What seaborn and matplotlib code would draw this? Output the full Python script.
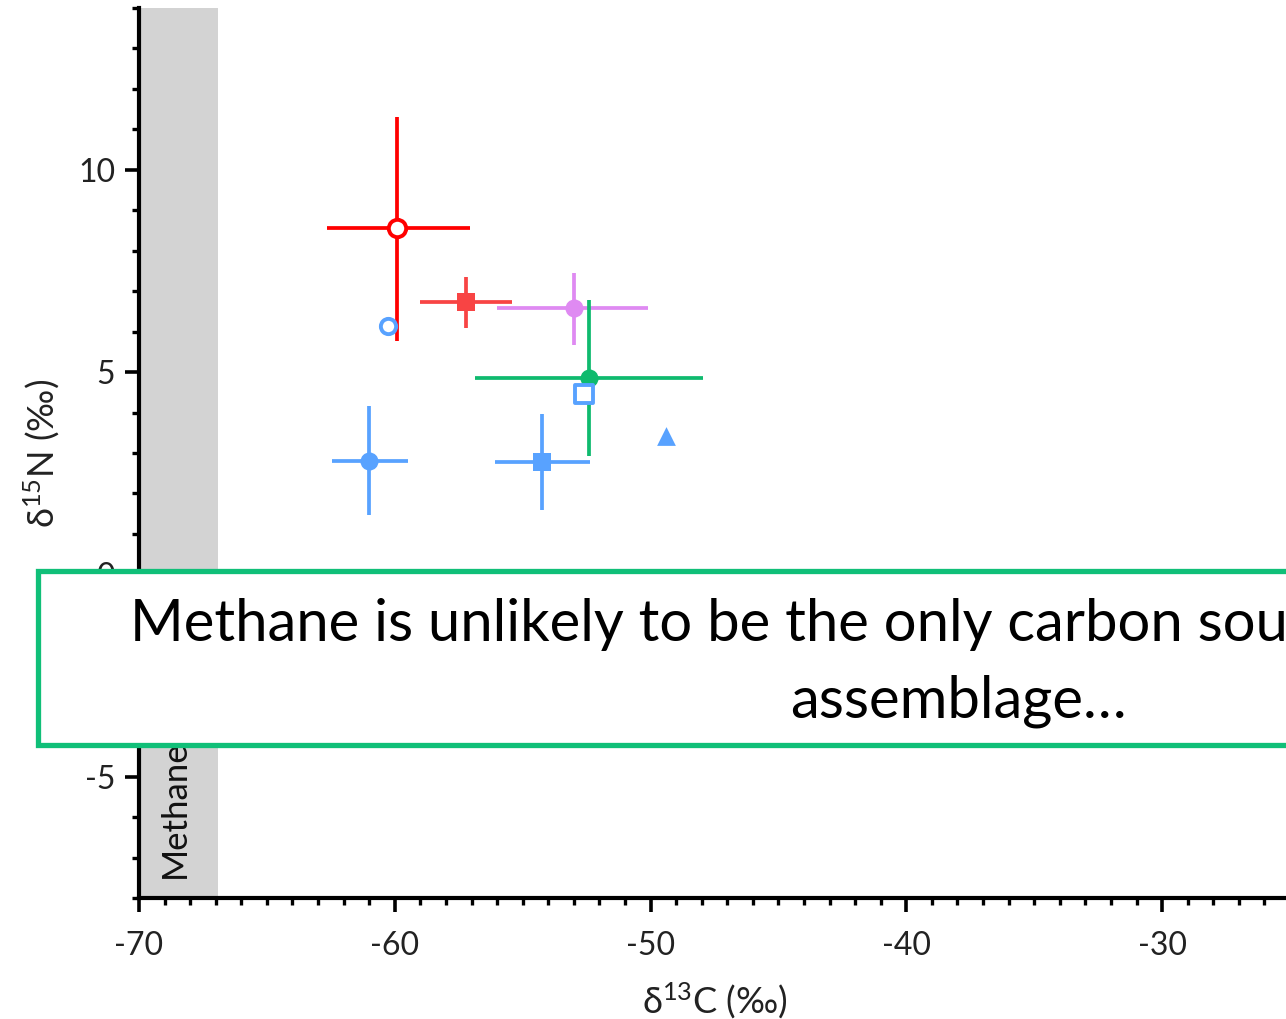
import matplotlib
matplotlib.use('Agg')
import matplotlib.pyplot as plt
import seaborn as sns
import numpy as np
from matplotlib.patches import Rectangle
from matplotlib.ticker import MultipleLocator

sns.set_style('ticks')
plt.rcParams['font.family'] = ['Lato', 'DejaVu Sans']
plt.rcParams['mathtext.fontset'] = 'custom'
plt.rcParams['mathtext.rm'] = 'Lato'
plt.rcParams['mathtext.it'] = 'Lato:italic'
plt.rcParams['axes.unicode_minus'] = False

# ---- data ----
x_vals = [-59.9, -57.2, -53.0, -52.4, -60.25, -52.6, -49.4, -61.0, -54.25]
y_vals = [8.55, 6.74, 6.58, 4.86, 6.15, 4.47, 3.42, 2.80, 2.77]
x_low = [-62.65, -59.0, -56.0, -56.85, np.nan, np.nan, np.nan, -62.45, -56.1]
x_high = [-57.05, -55.4, -50.1, -47.95, np.nan, np.nan, np.nan, -59.5, -52.35]
y_low = [5.78, 6.10, 5.67, 2.93, np.nan, np.nan, np.nan, 1.46, 1.58]
y_high = [11.30, 7.36, 7.46, 6.77, np.nan, np.nan, np.nan, 4.16, 3.96]
colors = ['#ff0000', '#f84444', '#df8af2', '#0fba6e', '#58a2ff', '#58a2ff',
          '#58a2ff', '#58a2ff', '#58a2ff']
markers = ['o', 's', 'o', 'o', 'o', 's', '^', 'o', 's']
filled = [False, True, True, True, False, False, True, True, True]
msizes = [12.5, 13.5, 13, 13, 11, 12.5, 13.5, 13, 13.5]

band_x = [-70, -66.9]
band_label = 'Methane'
x_ticks = [-70, -60, -50, -40, -30]
y_ticks = [-5, 0, 5, 10]
xlabel = 'δ$\\mathregular{^{13}}$C (‰)'
ylabel = 'δ$\\mathregular{^{15}}$N (‰)'
note_line1 = 'Methane is unlikely to be the only carbon source'
note_line2 = 'assemblage…'

W, H = 1286, 1019
fig = plt.figure(figsize=(W / 100, H / 100), dpi=100)
ax = fig.add_axes([139 / W, 1 - 898 / H, (1290 - 139) / W, (898 - 8) / H])

ax.axvspan(band_x[0], band_x[1], color='#d3d3d3', lw=0, zorder=0)
ax.text(band_x[0] + (band_x[1] - band_x[0]) * 0.45, -7.5, band_label,
        rotation=90, ha='center', va='bottom', fontsize=25, color='#111111', zorder=1)

for i in range(len(x_vals)):
    if not np.isnan(x_low[i]):
        ax.errorbar([x_vals[i]], [y_vals[i]],
                    xerr=[[x_vals[i] - x_low[i]], [x_high[i] - x_vals[i]]],
                    yerr=[[y_vals[i] - y_low[i]], [y_high[i] - y_vals[i]]],
                    fmt='none', ecolor=colors[i], elinewidth=2.7, capsize=0,
                    zorder=2 + i * 0.1)
    face = colors[i] if filled[i] else 'white'
    sns.scatterplot(x=[x_vals[i]], y=[y_vals[i]], marker=markers[i],
                    s=msizes[i] ** 2, color=face, edgecolor=colors[i],
                    linewidth=0 if filled[i] else 2.8, ax=ax, zorder=3 + i * 0.1,
                    legend=False)

ax.set_xlim(-70, -25)
ax.set_ylim(-8, 14)
ax.set_xticks(x_ticks)
ax.set_yticks(y_ticks)
ax.xaxis.set_minor_locator(MultipleLocator(1))
ax.yaxis.set_minor_locator(MultipleLocator(1))
ax.tick_params(which='major', direction='out', length=10, width=2.6, labelsize=23,
               color='black', labelcolor='#222222')
ax.tick_params(axis='x', which='major', pad=14)
ax.tick_params(axis='y', which='major', pad=7)
ax.tick_params(which='minor', direction='out', length=5, width=2.4, color='black')
for s in ['top', 'right']:
    ax.spines[s].set_visible(False)
for s in ['left', 'bottom']:
    ax.spines[s].set_linewidth(3)
    ax.spines[s].set_color('black')
ax.set_xlabel(xlabel, fontsize=26, labelpad=14, color='#222222')
ax.set_ylabel(ylabel, fontsize=26, labelpad=12, color='#222222')

# annotation box over the chart
rect = Rectangle((37.5 / W, 1 - 745 / H), (W + 40 - 37.5) / W, (745 - 571) / H,
                 transform=fig.transFigure, facecolor='white', edgecolor='#10bf78',
                 linewidth=3.8, zorder=10, clip_on=False)
fig.add_artist(rect)
fig.text(130 / W, 1 - 641 / H, note_line1, ha='left', va='baseline', fontsize=41.8,
         color='black', zorder=11)
fig.text(958 / W, 1 - 718 / H, note_line2, ha='center', va='baseline', fontsize=41.8,
         color='black', zorder=11)

fig.savefig('out.png', dpi=100)
